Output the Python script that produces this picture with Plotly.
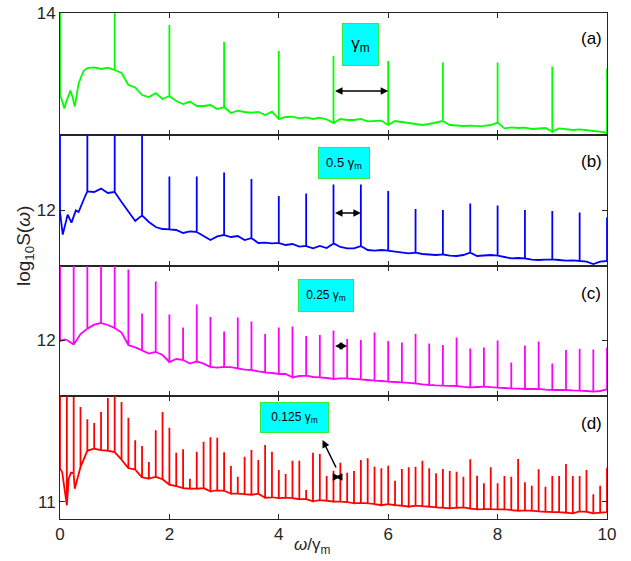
import plotly.graph_objects as go

# ---------------- data ----------------
GRID_STEP = 0.125
grid_x = [round(i * GRID_STEP, 4) for i in range(81)]

# panel (a) baseline on 0.125 grid
a_base = [13.59, 13.565, 13.545, 13.675, 13.725, 13.728, 13.72, 13.727,
          13.715, 13.70, 13.64, 13.628, 13.59, 13.58, 13.60, 13.57,
          13.585, 13.56, 13.545, 13.557, 13.535, 13.535, 13.54, 13.52,
          13.53, 13.50, 13.512, 13.505, 13.502, 13.506, 13.49, 13.507,
          13.47, 13.48, 13.482, 13.473, 13.478, 13.47, 13.477, 13.468,
          13.45, 13.47, 13.465, 13.465, 13.47, 13.458, 13.46, 13.462,
          13.44, 13.46, 13.455, 13.45, 13.443, 13.44, 13.445, 13.452,
          13.46, 13.44, 13.437, 13.435, 13.437, 13.434, 13.436, 13.44,
          13.452, 13.423, 13.428, 13.425, 13.427, 13.42, 13.422, 13.425,
          13.407, 13.423, 13.418, 13.415, 13.418, 13.413, 13.41, 13.407,
          13.40]
a_extra_x = [0.04, 0.08, 0.19, 0.23, 0.27, 0.34, 0.43]
a_extra_y = [13.56, 13.523, 13.612, 13.58, 13.532, 13.648, 13.71]
a_spike_x = [0, 1, 2, 3, 4, 5, 6, 7, 8, 9, 10]
a_spike_y = [14.05, 14.05, 13.94, 13.855, 13.81, 13.785, 13.76, 13.753, 13.753, 13.733, 13.723]

# panel (b)
b_base = [11.99, 11.965, 11.97, 12.01, 12.093, 12.09, 12.107, 12.085,
          12.09, 12.04, 11.99, 11.945, 11.973, 11.94, 11.915, 11.905,
          11.903, 11.9, 11.885, 11.893, 11.89, 11.87, 11.85, 11.868,
          11.875, 11.865, 11.87, 11.85, 11.86, 11.835, 11.837, 11.833,
          11.835, 11.825, 11.83, 11.817, 11.82, 11.808, 11.82, 11.81,
          11.833, 11.815, 11.808, 11.808, 11.82, 11.8, 11.797, 11.8,
          11.797, 11.792, 11.788, 11.783, 11.787, 11.78, 11.777, 11.775,
          11.778, 11.772, 11.77, 11.775, 11.787, 11.77, 11.774, 11.775,
          11.772, 11.765, 11.758, 11.76, 11.758, 11.752, 11.75, 11.752,
          11.753, 11.75, 11.747, 11.748, 11.745, 11.742, 11.73, 11.742,
          11.745]
b_extra_x = [0.05, 0.14, 0.21, 0.29, 0.34, 0.43]
b_extra_y = [11.877, 11.977, 11.937, 11.998, 11.99, 12.05]
b_spike_x = [i * 0.5 for i in range(21)]
b_spike_y = [12.45, 12.45, 12.45, 12.45, 12.167, 12.167, 12.187, 12.155, 12.07, 12.083,
             12.128, 12.128, 12.095, 12.005, 12.0, 12.033, 12.022, 12.0, 11.995, 11.988,
             11.963]

# panel (c)
c_base = [11.995, 12.0, 11.977, 12.03, 12.057, 12.077, 12.085, 12.075,
          12.06, 12.037, 11.975, 11.963, 11.948, 11.932, 11.94, 11.925,
          11.89, 11.905, 11.9, 11.882, 11.893, 11.882, 11.865, 11.862,
          11.865, 11.864, 11.858, 11.852, 11.85, 11.843, 11.838, 11.835,
          11.83, 11.83, 11.813, 11.82, 11.822, 11.815, 11.813, 11.81,
          11.805, 11.808, 11.808, 11.805, 11.803, 11.8, 11.797, 11.795,
          11.792, 11.79, 11.788, 11.786, 11.783, 11.778, 11.775, 11.773,
          11.772, 11.771, 11.77, 11.766, 11.763, 11.765, 11.767, 11.764,
          11.762, 11.76, 11.758, 11.757, 11.755, 11.755, 11.755, 11.752,
          11.75, 11.75, 11.75, 11.748, 11.747, 11.745, 11.742, 11.745,
          11.753]
c_extra_x = [0.09, 0.18, 0.3]
c_extra_y = [12.003, 11.99, 11.998]
c_spike_x = [i * 0.25 for i in range(41)]
c_spike_y = [12.45, 12.45, 12.45, 12.45, 12.45, 12.353, 12.132, 12.293, 12.128, 12.062,
             12.177, 12.115, 12.042, 12.113, 12.092, 12.03, 12.063, 12.067, 12.02, 12.025,
             12.047, 12.005, 12.0, 12.037, 11.995, 11.987, 12.03, 11.983, 11.975, 12.013,
             11.958, 11.963, 11.997, 11.888, 11.972, 11.992, 11.883, 11.95, 11.955, 11.952,
             11.962]

# panel (d)
d_base = [11.165, 10.982, 11.14, 11.173, 11.255, 11.265, 11.258, 11.255,
          11.248, 11.21, 11.168, 11.16, 11.122, 11.115, 11.124, 11.112,
          11.085, 11.078, 11.068, 11.065, 11.065, 11.068, 11.052, 11.057,
          11.055, 11.04, 11.04, 11.038, 11.035, 11.04, 11.02, 11.022,
          11.018, 11.02, 11.018, 11.013, 11.013, 11.002, 11.008, 11.005,
          11.0, 11.0, 10.998, 10.992, 10.994, 10.992, 10.988, 10.983,
          10.988, 10.983, 10.98, 10.975, 10.98, 10.978, 10.975, 10.972,
          10.97, 10.967, 10.97, 10.972, 10.965, 10.962, 10.963, 10.963,
          10.962, 10.962, 10.958, 10.955, 10.957, 10.955, 10.952, 10.95,
          10.948, 10.948, 10.945, 10.942, 10.952, 10.95, 10.942, 10.945,
          10.948]
d_extra_x = [0.04, 0.09, 0.16, 0.2, 0.27, 0.3]
d_extra_y = [11.148, 11.048, 11.115, 11.145, 11.065, 11.098]
d_spike_x = [i * 0.125 for i in range(81)]
d_spike_y = [11.6, 11.6, 11.5235, 11.473, 11.412, 11.393, 11.448, 11.518,
             11.6, 11.498, 11.42, 11.307, 11.278, 11.198, 11.357, 11.448,
             11.37, 11.245, 11.262, 11.115, 11.25, 11.30, 11.322, 11.32,
             11.247, 11.178, 11.125, 11.225, 11.258, 11.208, 11.283, 11.25,
             11.158, 11.138, 11.205, 11.205, 11.058, 11.245, 11.238, 11.128,
             11.155, 11.195, 11.145, 11.153, 11.208, 11.217, 11.175, 11.167,
             11.18, 11.105, 11.163, 11.172, 11.175, 11.205, 11.167, 11.142,
             11.163, 11.153, 11.15, 11.125, 11.212, 11.13, 11.092, 11.172,
             11.092, 11.128, 11.125, 11.213, 11.097, 11.08, 11.162, 11.075,
             11.128, 11.128, 11.188, 11.128, 11.128, 11.158, 11.037, 11.08,
             11.17]

y_ranges = [[13.39, 14.0], [11.7225, 12.375], [11.7225, 12.3725], [10.9135, 11.531]]
y_ticks = [[14], [12], [12], [11]]
x_ticks = [0, 2, 4, 6, 8, 10]
colors = ["#00ff00", "#0000ff", "#ff00ff", "#ff0000"]
panel_labels = ["(a)", "(b)", "(c)", "(d)"]
box_texts = ["γ<sub>m</sub>", "0.5 γ<sub>m</sub>", "0.25 γ<sub>m</sub>", "0.125 γ<sub>m</sub>"]


def build(base, ex_x, ex_y, sx, sy):
    pts = list(zip(grid_x, base)) + list(zip(ex_x, ex_y))
    pts.sort(key=lambda p: p[0])
    peaks = {round(x, 4): y for x, y in zip(sx, sy)}
    X, Y = [], []
    for x, y in pts:
        X.append(x); Y.append(y)
        k = round(x, 4)
        if k in peaks:
            X += [x, x]
            Y += [peaks[k], y]
    return X, Y


series = [
    build(a_base, a_extra_x, a_extra_y, a_spike_x, a_spike_y),
    build(b_base, b_extra_x, b_extra_y, b_spike_x, b_spike_y),
    build(c_base, c_extra_x, c_extra_y, c_spike_x, c_spike_y),
    build(d_base, d_extra_x, d_extra_y, d_spike_x, d_spike_y),
]

# ---------------- layout helpers ----------------
W, H = 631, 561
L, R, T, B = 60, 24, 13, 42
PW, PH = W - L - R, H - T - B


def px(x):
    return (x - L) / PW


def py(y):
    return (H - B - y) / PH


panel_px = [(13, 135), (135, 265.5), (265.5, 395.5), (395.5, 519)]
FONT = "Liberation Sans, Arial, sans-serif"
AXC = "#262626"

fig = go.Figure()
layout = dict(width=W, height=H, margin=dict(l=L, r=R, t=T, b=B, autoexpand=False),
              plot_bgcolor="white", paper_bgcolor="white", showlegend=False,
              font=dict(family=FONT, size=17, color=AXC))

for i in range(4):
    n = "" if i == 0 else str(i + 1)
    X, Y = series[i]
    fig.add_trace(go.Scatter(x=X, y=Y, mode="lines", xaxis="x" + n, yaxis="y" + n,
                             line=dict(color=colors[i], width=1.8), hoverinfo="skip"))
    top, bot = panel_px[i]
    layout["xaxis" + n] = dict(domain=[0, 1], range=[0, 10], anchor="y" + n,
                               tickvals=x_ticks, ticks="inside", ticklen=5, tickcolor=AXC,
                               showline=True, linecolor=AXC, linewidth=1, mirror="ticks",
                               showgrid=False, zeroline=False, automargin=False,
                               showticklabels=(i == 3), tickfont=dict(size=17, color=AXC))
    layout["yaxis" + n] = dict(domain=[py(bot), py(top)], range=y_ranges[i], anchor="x" + n,
                               tickvals=y_ticks[i], ticks="inside", ticklen=5, tickcolor=AXC,
                               showline=True, linecolor=AXC, linewidth=1, mirror="ticks",
                               showgrid=False, zeroline=False, automargin=False,
                               tickfont=dict(size=17, color=AXC))

fig.update_layout(**layout)

ann = []
# panel labels
label_y = [38, 162, 293, 423]
for i in range(4):
    ann.append(dict(xref="paper", yref="paper", x=px(591), y=py(label_y[i]),
                    text=panel_labels[i], showarrow=False, xanchor="center", yanchor="middle",
                    font=dict(size=17, color="black")))

# cyan boxes
boxes = [(342, 379, 23, 66, 17), (318, 370, 147, 179, 13), (298, 354, 279, 312, 12),
         (260, 329, 402, 433, 12)]
for i, (x0, x1, y0, y1, fs) in enumerate(boxes):
    ann.append(dict(xref="paper", yref="paper", x=px((x0 + x1) / 2), y=py((y0 + y1) / 2),
                    text=box_texts[i], showarrow=False, xanchor="center", yanchor="middle",
                    width=x1 - x0 - 4, height=y1 - y0 - 4, borderpad=1,
                    bgcolor="#00ffff", bordercolor="#33ee33", borderwidth=1,
                    font=dict(size=fs, color="black")))

# double-headed spacing arrows (data coords)
arrows = [("x", "y", 5, 6, 13.61), ("x2", "y2", 5, 5.5, 11.985),
          ("x3", "y3", 5, 5.25, 11.97), ("x4", "y4", 5, 5.125, 11.1235)]
for xr, yr, xa, xb, yv in arrows:
    ann.append(dict(xref=xr, yref=yr, axref=xr, ayref=yr, x=xb, y=yv, ax=xa, ay=yv,
                    text="", showarrow=True, arrowhead=2, arrowsize=1, arrowwidth=1.5,
                    arrowside="end+start", arrowcolor="black"))
# pointer arrow in (d)
ann.append(dict(xref="x4", yref="y4", axref="x4", ayref="y4", x=4.80, y=11.3085,
                ax=5.06, ay=11.1635, text="", showarrow=True, arrowhead=2, arrowsize=1,
                arrowwidth=1.5, arrowcolor="black"))

# axis titles
ann.append(dict(xref="paper", yref="paper", x=px(312), y=py(546),
                text="<i>ω</i>/γ<sub>m</sub>", showarrow=False, xanchor="center",
                yanchor="middle", font=dict(size=17, color=AXC)))
ann.append(dict(xref="paper", yref="paper", x=px(25), y=py(246),
                text="log<sub>10</sub>S(<i>ω</i>)", showarrow=False, textangle=-90,
                xanchor="center", yanchor="middle", font=dict(size=19, color=AXC)))

fig.update_layout(annotations=ann)
fig.write_html("out.html", config={"displayModeBar": False},
               post_script="document.body.style.margin='0';document.body.style.padding='0';")
